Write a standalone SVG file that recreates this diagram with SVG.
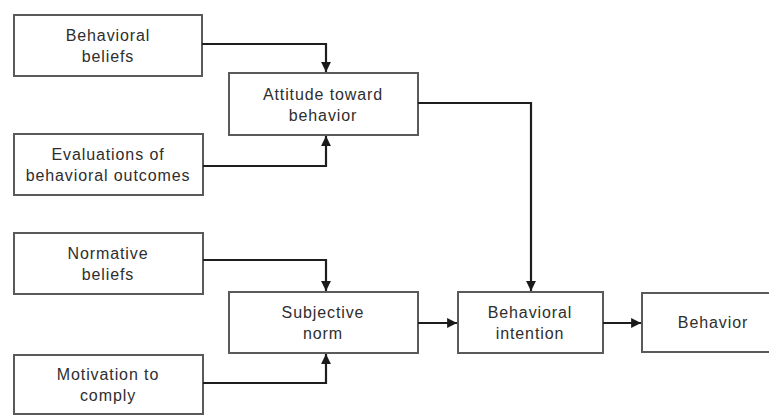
<svg xmlns="http://www.w3.org/2000/svg" width="769" height="415" viewBox="0 0 769 415">
<defs>
<marker id="ah" viewBox="0 0 10 10" refX="10" refY="5" markerWidth="5.5" markerHeight="4.5" orient="auto" markerUnits="strokeWidth">
<path d="M0,0 L10,5 L0,10 z" fill="#1a1a1a"/>
</marker>
<style>
.box{fill:#fff;stroke:#5a5a5a;stroke-width:2}
.lbl{font-family:"Liberation Sans",Arial,sans-serif;font-size:16px;letter-spacing:0.9px;fill:#2e2e2e;text-anchor:middle}
.con{fill:none;stroke:#1e1e1e;stroke-width:2.2;marker-end:url(#ah)}
</style>
</defs>
<rect width="769" height="415" fill="#fff"/>
<g id="behavioral-beliefs">
<rect class="box" x="14" y="15" width="188" height="61"/>
<text class="lbl" x="108" y="41">Behavioral</text>
<text class="lbl" x="108" y="62">beliefs</text>
</g>
<g id="attitude">
<rect class="box" x="229" y="73" width="189" height="62"/>
<text class="lbl" x="323" y="100">Attitude toward</text>
<text class="lbl" x="323" y="121">behavior</text>
</g>
<g id="evaluations">
<rect class="box" x="14" y="134" width="189" height="61"/>
<text class="lbl" x="108" y="160">Evaluations of</text>
<text class="lbl" x="108" y="181">behavioral outcomes</text>
</g>
<g id="normative-beliefs">
<rect class="box" x="14" y="233" width="189" height="61"/>
<text class="lbl" x="108" y="259">Normative</text>
<text class="lbl" x="108" y="280">beliefs</text>
</g>
<g id="subjective-norm">
<rect class="box" x="229" y="292" width="189" height="61"/>
<text class="lbl" x="323" y="318">Subjective</text>
<text class="lbl" x="323" y="339">norm</text>
</g>
<g id="motivation">
<rect class="box" x="14" y="355" width="189" height="59"/>
<text class="lbl" x="108" y="380">Motivation to</text>
<text class="lbl" x="108" y="401">comply</text>
</g>
<g id="behavioral-intention">
<rect class="box" x="458" y="292" width="145" height="61"/>
<text class="lbl" x="530" y="318">Behavioral</text>
<text class="lbl" x="530" y="339">intention</text>
</g>
<g id="behavior">
<rect class="box" x="642" y="293" width="145" height="59"/>
<text class="lbl" x="713" y="328">Behavior</text>
</g>
<g id="connectors">
<path class="con" d="M202,44 H326 V72"/>
<path class="con" d="M203,166 H326 V136"/>
<path class="con" d="M203,260 H326 V291"/>
<path class="con" d="M203,383 H326 V354"/>
<path class="con" d="M418,103 H531 V291"/>
<path class="con" d="M418,323 H457"/>
<path class="con" d="M603,323 H641"/>
</g>
</svg>
